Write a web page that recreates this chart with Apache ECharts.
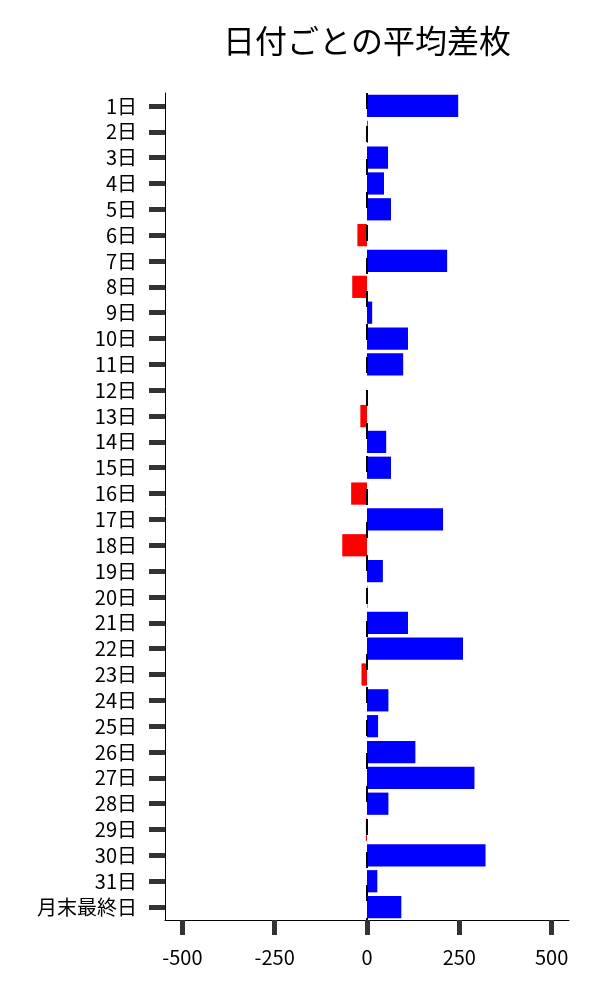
<!DOCTYPE html>
<html lang="ja">
<head>
  <meta charset="UTF-8">
  <title>日付ごとの平均差枚</title>
  <style>
    html, body { margin: 0; padding: 0; background: #fff; }
    #chart { width: 600px; height: 1000px; }
  </style>
</head>
<body>
  <div id="chart"></div>
  <script src="https://cdn.jsdelivr.net/npm/echarts@6/dist/echarts.min.js"></script>
  <script>
    // 日付ラベル
    var days = ['1日', '2日', '3日', '4日', '5日', '6日', '7日', '8日', '9日', '10日',
      '11日', '12日', '13日', '14日', '15日', '16日', '17日', '18日', '19日', '20日',
      '21日', '22日', '23日', '24日', '25日', '26日', '27日', '28日', '29日', '30日',
      '31日', '月末最終日'];
    // 平均差枚
    var avgDiff = [247, 2, 57, 46, 65, -26, 217, -40, 14, 111,
      98, 0, -18, 52, 65, -43, 206, -67, 43, 1,
      111, 260, -15, 58, 30, 131, 291, 58, -3, 321,
      28, 93];
    var xTicks = [-500, -250, 0, 250, 500];

    var font = '"Noto Sans CJK JP", "Noto Sans", sans-serif';
    var chart = echarts.init(document.getElementById('chart'));

    var option = {
      backgroundColor: '#fff',
      animation: false,
      title: {
        text: '日付ごとの平均差枚',
        left: 362,
        top: 20,
        textAlign: 'center',
        textStyle: {
          fontFamily: font,
          fontSize: 32,
          fontWeight: 'normal',
          color: '#000'
        }
      },
      grid: {
        left: 165,
        right: 31,
        top: 93,
        bottom: 80
      },
      xAxis: {
        type: 'value',
        min: -547,
        max: 547,
        axisLine: {
          show: true,
          onZero: false,
          lineStyle: { color: '#000', width: 1 }
        },
        axisTick: {
          show: true,
          customValues: xTicks,
          length: 15,
          lineStyle: { color: '#333', width: 5 }
        },
        axisLabel: {
          customValues: xTicks,
          margin: 27,
          fontFamily: font,
          fontSize: 20,
          color: '#000'
        },
        splitLine: { show: false }
      },
      yAxis: {
        type: 'category',
        data: days,
        inverse: true,
        axisLine: {
          show: true,
          onZero: false,
          lineStyle: { color: '#000', width: 1 }
        },
        axisTick: {
          show: true,
          interval: 0,
          alignWithLabel: true,
          length: 16,
          lineStyle: { color: '#333', width: 5 }
        },
        axisLabel: {
          interval: 0,
          margin: 28,
          fontFamily: font,
          fontSize: 20,
          color: '#000'
        }
      },
      series: [{
        type: 'bar',
        data: avgDiff,
        barCategoryGap: '14%',
        itemStyle: {
          color: function (p) {
            return p.value < 0 ? '#ff0000' : '#0000ff';
          }
        },
        markLine: {
          silent: true,
          symbol: 'none',
          label: { show: false },
          lineStyle: { color: '#000', width: 2, type: [16, 17] },
          data: [{ xAxis: 0 }]
        }
      }]
    };

    chart.setOption(option);
  </script>
</body>
</html>
